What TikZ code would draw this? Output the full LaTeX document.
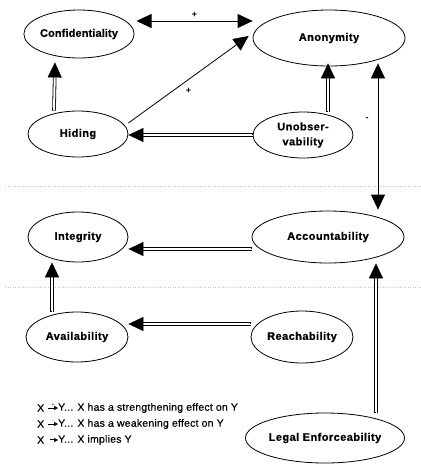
\documentclass[tikz,border=0pt]{standalone}
\usepackage{fontspec}
\setmainfont{Liberation Sans}
\usetikzlibrary{arrows.meta,shapes.geometric}

\begin{document}
\begin{tikzpicture}[x=1pt,y=-1pt,
  prop/.style={draw, ellipse, line width=0.8pt, inner sep=0pt, align=center,
    font=\bfseries\fontsize{11}{15}\selectfont\addfontfeature{LetterSpace=4,FakeBold=0.6}},
  % two-stroke shaft (wide black stroke, white core) and a solid black head
  implies/.style={line width=3.6pt, shorten >=13pt,
    postaction={draw=white, line width=2pt, shorten >=12.5pt, shorten <=0.5pt},
    postaction={draw=white, line width=0.5pt, shorten >=0pt,
      -{Triangle[length=15pt,width=14pt,color=black]}}},
  effect/.style={line width=0.8pt, -{Triangle[length=15pt,width=14pt]}},
  mutual/.style={line width=0.8pt, {Triangle[length=15pt,width=14pt]}-{Triangle[length=15pt,width=14pt]}},
  sep/.style={dotted, gray!45, line width=0.5pt},
  sign/.style={font=\bfseries\fontsize{9}{10}\selectfont, inner sep=1pt},
  legend/.style={inner sep=0pt, font=\fontsize{10.5}{12}\selectfont\addfontfeature{LetterSpace=2,FakeBold=0.4}},
  legtip/.style={line width=0.5pt, -{Triangle[length=4pt,width=4pt]}},
  legimp/.style={line width=1.5pt, shorten >=3pt,
    postaction={draw=white, line width=0.6pt, shorten >=2.8pt},
    postaction={draw=white, line width=0.2pt, shorten >=0pt,
      -{Triangle[length=4pt,width=4pt,color=black]}}},
  tiny/.style={inner sep=0pt, font=\fontsize{5}{5}\selectfont}]
\useasboundingbox (0,0) rectangle (421,464);

% level separators
\draw[sep] (5,186) -- (421,186);
\draw[sep] (5,287) -- (421,287);

% properties
\node[prop, minimum width=104pt, minimum height=48pt,
  font=\bfseries\fontsize{11}{15}\selectfont\addfontfeature{LetterSpace=1,FakeBold=0.6}] (conf) at (79,34) {Confidentiality};
\node[prop, minimum width=152pt, minimum height=56pt] (anon)  at (329,38) {Anonymity};
\node[prop, minimum width=100pt, minimum height=46pt] (hid)   at (78,134) {Hiding};
\node[prop, minimum width=100pt, minimum height=46pt] (unob)  at (303,135) {Unobser-\\vability};
\node[prop, minimum width=100pt, minimum height=50pt] (int)   at (78,237) {Integrity};
\node[prop, minimum width=152pt, minimum height=52pt] (acc)   at (328,237) {Accountability};
\node[prop, minimum width=102pt, minimum height=50pt] (avail) at (77,337) {Availability};
\node[prop, minimum width=102pt, minimum height=52pt] (reach) at (302,337) {Reachability};
\node[prop, minimum width=150pt, minimum height=50pt] (legal) at (325,438) {Legal Enforceability};

% effects
\draw[mutual] ([shift={(2,-13)}]conf.east) -- ([shift={(0,-17)}]anon.west)
  node[sign, midway, above=2pt] (p1) {+};
\draw[effect] ([shift={(0,-11)}]hid.east) -- ([shift={(-4,-2)}]anon.west)
  node[sign, pos=0.5, below=7pt] (p2) {+};
\draw[mutual] ([shift={(49,-3)}]anon.south) -- ([shift={(50,-1)}]acc.north)
  node[sign, pos=0.38, left=8pt] (m1) {-};

% implications
\draw[implies] ([xshift=-24]hid.north) -- ([shift={(-24,4)}]conf.south);
\draw[implies] ([xshift=25]unob.north) -- ([shift={(-1,-3)}]anon.south);
\draw[implies] (unob.west) -- (hid.east |- unob.west);
\draw[implies] ([yshift=-12]acc.west) -- ([yshift=-12]int.east);
\draw[implies] ([xshift=-25]avail.north) -- ([xshift=-26]int.south);
\draw[implies] ([xshift=51]legal.north) -- ([xshift=48]acc.south);
\draw[implies] ([yshift=13]reach.west) -- ([yshift=13]avail.east);

% legend
\node[legend, anchor=west] (lx1) at (37,408) {X};
\node[legend, anchor=west] (ly1) at (58,408) {Y... X has a strengthening effect on Y};
\draw[legtip] ([xshift=4]lx1.east) -- (ly1.west) node[tiny, midway, above=1.5pt] {+};
\node[legend, anchor=west] (lx2) at (37,424) {X};
\node[legend, anchor=west] (ly2) at (58,424) {Y... X has a weakening effect on Y};
\draw[legtip] ([xshift=4]lx2.east) -- (ly2.west) node[tiny, midway, above=1.5pt] {-};
\node[legend, anchor=west] (lx3) at (37,440) {X};
\node[legend, anchor=west] (ly3) at (58,440) {Y... X implies Y};
\draw[legimp] ([xshift=6]lx3.east) -- (ly3.west);
\end{tikzpicture}
\end{document}
